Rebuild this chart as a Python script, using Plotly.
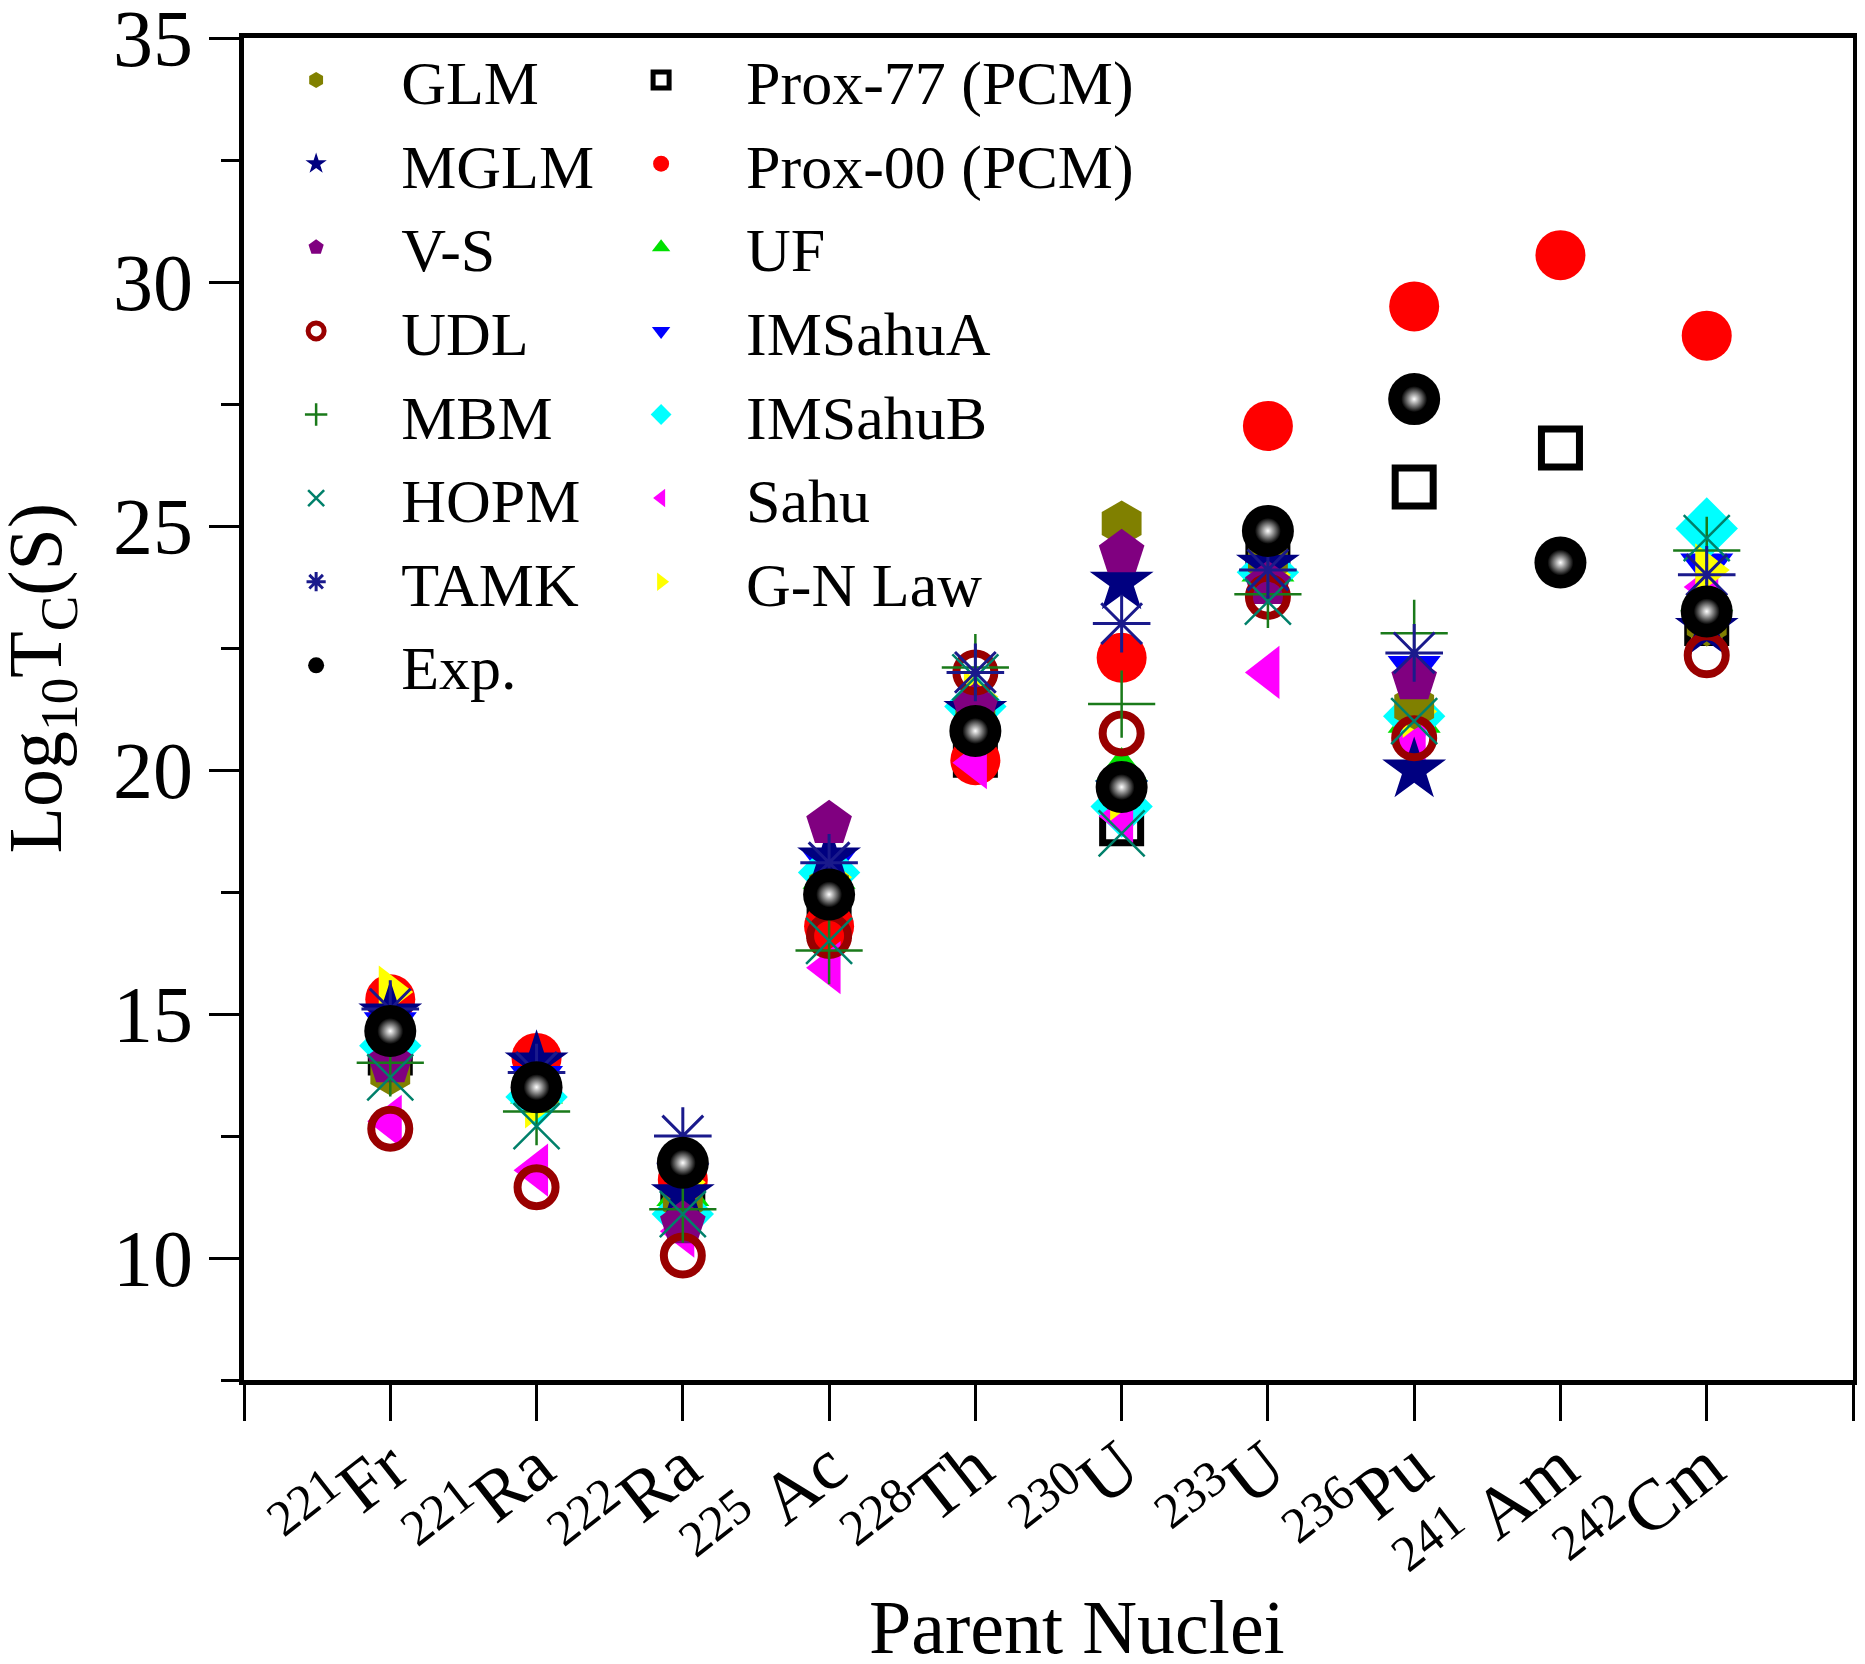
import plotly.graph_objects as go

# Parent nuclei (x categories)
nuclei = [
    "<sup>221</sup>Fr", "<sup>221</sup>Ra", "<sup>222</sup>Ra", "<sup>225</sup> Ac",
    "<sup>228</sup>Th", "<sup>230</sup>U", "<sup>233</sup>U", "<sup>236</sup>Pu",
    "<sup>241</sup> Am", "<sup>242</sup>Cm",
]

# log10 Tc (s) for each model
glm = [13.8, 13.5, 11.2, 17.6, 21.2, 25.05, 24.3, 21.3, None, 23.0]
mglm = [15.0, 14.0, 11.3, 18.2, 21.2, 23.85, 24.2, 20.0, None, 22.9]
vs = [14.0, 13.5, 10.7, 18.9, 21.3, 24.45, 23.8, 21.85, None, 23.2]
udl = [12.65, 11.45, 10.05, 16.6, 22.0, 20.75, 23.55, 20.65, None, 22.35]
mbm = [14.0, 13.0, 11.0, 16.3, 22.1, 21.35, 23.6, 22.8, None, 24.5]
hopm = [13.7, 12.7, 10.9, 16.5, 21.9, 18.7, 23.45, 21.0, None, 24.75]
tamk = [15.1, 13.8, 12.5, 18.1, 22.0, 23.0, 24.1, 22.4, None, 24.0]
exp = [14.65, 13.5, 11.95, 17.45, 20.8, 19.65, 24.9, 27.6, 24.25, 23.25]
prox77 = [14.2, 13.6, 11.5, 17.0, 20.3, 18.9, 24.5, 25.8, 26.6, 23.0]
prox00 = [15.3, 14.1, 11.6, 16.8, 20.2, 22.3, 27.05, 29.5, 30.55, 28.9]
uf = [14.5, 13.4, 11.3, 17.8, 21.5, 20.0, 24.1, 21.0, None, 23.5]
imsahua = [14.8, 13.7, 11.7, 18.1, 21.1, 19.55, 24.15, 22.1, None, 24.2]
imsahub = [14.35, 13.3, 10.9, 17.9, 21.3, 19.25, 24.05, 21.1, None, 24.95]
sahu = [12.8, 11.8, 10.55, 15.95, 20.15, 19.05, 22.0, 20.6, None, 23.75]
gnlaw = [15.45, 13.2, 11.55, 17.8, 21.5, 19.5, 24.0, 21.2, None, 24.1]

xpos = list(range(1, len(nuclei) + 1))
FONT = "Liberation Serif, Times New Roman, serif"

# (name, values, symbol, color, size, line width, legend)
series = [
    ("Prox-77 (PCM)", prox77, "square-open", "black", 38, 7, "legend2"),
    ("Prox-00 (PCM)", prox00, "circle", "#ff0000", 50, 0, "legend2"),
    ("UF", uf, "triangle-up", "#00e000", 46, 0, "legend2"),
    ("IMSahuA", imsahua, "triangle-down", "#0000ff", 46, 0, "legend2"),
    ("IMSahuB", imsahub, "diamond", "#00ffff", 48, 0, "legend2"),
    ("Sahu", sahu, "triangle-left", "#ff00ff", 46, 0, "legend2"),
    ("G-N Law", gnlaw, "triangle-right", "#ffff00", 46, 0, "legend2"),
    ("GLM", glm, "hexagon", "#808000", 46, 0, "legend"),
    ("MGLM", mglm, "star", "#000080", 48, 0, "legend"),
    ("V-S", vs, "pentagon", "#800080", 48, 0, "legend"),
    ("UDL", udl, "circle-open", "#990000", 38, 8, "legend"),
    ("MBM", mbm, "cross-thin-open", "#1a7a1a", 48, 2.5, "legend"),
    ("HOPM", hopm, "x-thin-open", "#00806a", 46, 2.5, "legend"),
    ("TAMK", tamk, "asterisk-open", "#1a1a8c", 48, 3, "legend"),
]

fig = go.Figure()

for name, vals, sym, col, size, lw, leg in series:
    marker = dict(symbol=sym, color=col, size=size)
    if sym.endswith("-open"):
        marker["line"] = dict(color=col, width=lw)
    else:
        marker["line"] = dict(width=0)
    fig.add_trace(
        go.Scatter(x=xpos, y=vals, name=name, mode="markers", marker=marker, legend=leg)
    )

# Exp: black sphere with a soft highlight
fig.add_trace(
    go.Scatter(
        x=xpos, y=exp, name="Exp.", mode="markers", legend="legend",
        marker=dict(symbol="circle", color="black", size=52, line=dict(width=0)),
    )
)
fig.add_trace(
    go.Scatter(
        x=xpos, y=exp, mode="markers", showlegend=False, hoverinfo="skip",
        marker=dict(symbol="circle", color="black", size=26, line=dict(width=0),
                    gradient=dict(type="radial", color="white")),
    )
)

legend_style = dict(
    font=dict(family=FONT, size=62, color="black"),
    bgcolor="rgba(0,0,0,0)",
    yanchor="top",
    y=1.0035,
    xanchor="left",
    itemwidth=160,
    tracegroupgap=0,
)

fig.update_xaxes(
    range=[0, 11],
    tickvals=list(range(0, 12)),
    ticktext=[""] + nuclei + [""],
    tickangle=-38,
    ticks="outside",
    ticklen=36,
    tickwidth=3,
    tickcolor="black",
    ticklabelstandoff=-24,
    ticklabelshift=0,
    ticklabeloverflow="allow",
    showline=True,
    linewidth=5,
    linecolor="black",
    mirror=True,
    showgrid=False,
    zeroline=False,
    automargin=False,
    tickfont=dict(family=FONT, size=72, color="black"),
)
fig.update_yaxes(
    range=[7.5, 35],
    tickvals=[10, 15, 20, 25, 30, 35],
    ticks="outside",
    ticklen=30,
    tickwidth=3,
    tickcolor="black",
    minor=dict(dtick=2.5, tick0=0, ticks="outside", ticklen=18, tickwidth=3, tickcolor="black"),
    ticklabeloverflow="allow",
    showline=True,
    linewidth=5,
    linecolor="black",
    mirror=True,
    showgrid=False,
    zeroline=False,
    automargin=False,
    tickfont=dict(family=FONT, size=80, color="black"),
)

# axis titles
fig.add_annotation(
    text="Parent Nuclei", xref="paper", yref="paper", x=0.518, y=-0.151,
    xanchor="center", yanchor="top", showarrow=False,
    font=dict(family=FONT, size=76, color="black"),
)
fig.add_annotation(
    text="Log<sub>10</sub>T<sub>C</sub>(S)", xref="paper", yref="paper", x=-0.126, y=0.523,
    xanchor="center", yanchor="middle", textangle=-90, showarrow=False,
    font=dict(family=FONT, size=76, color="black"),
)

# page body keeps an 8 px margin, so the figure is sized to fit inside the window
fig.update_layout(
    width=1849,
    height=1648,
    margin=dict(l=236, r=4, t=30, b=276, autoexpand=False),
    plot_bgcolor="white",
    paper_bgcolor="white",
    showlegend=True,
    legend=dict(legend_style, x=-0.008),
    legend2=dict(legend_style, x=0.2064),
)

fig.write_html("out.html")
